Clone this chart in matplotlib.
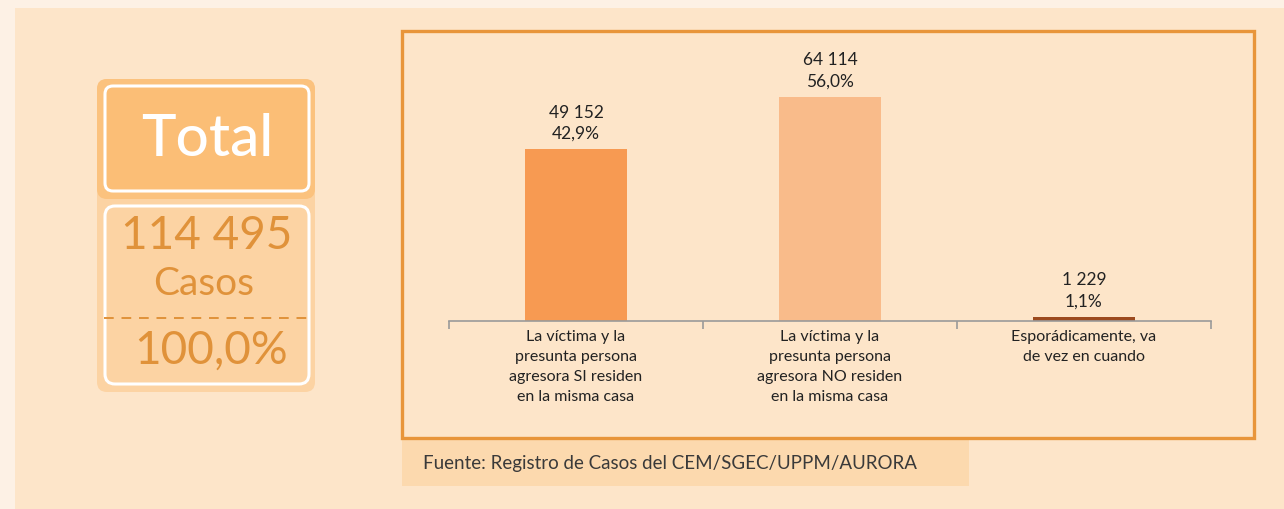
import matplotlib
matplotlib.use("Agg")
import matplotlib.pyplot as plt
from matplotlib.patches import Rectangle, FancyBboxPatch
from matplotlib.transforms import IdentityTransform
from matplotlib.lines import Line2D

categories = [
    "La víctima y la\npresunta persona\nagresora SI residen\nen la misma casa",
    "La víctima y la\npresunta persona\nagresora NO residen\nen la misma casa",
    "Esporádicamente, va\nde vez en cuando",
]
casos = [49152, 64114, 1229]
porcentajes = [42.9, 56.0, 1.1]
total_casos = 114495
total_pct = 100.0
fuente = "Fuente: Registro de Casos del CEM/SGEC/UPPM/AURORA"

bar_colors = ["#F79A52", "#F9BB8A", "#9C4A1E"]

W, H = 1284, 510
fig = plt.figure(figsize=(W / 100, H / 100), dpi=100)
fig.patch.set_facecolor("#FDF1E5")
T = IdentityTransform()

def r(x0, y0, x1, y1, **kw):
    # pixel coords from top-left
    return Rectangle((x0, H - y1), x1 - x0, y1 - y0, transform=T, **kw)

def rr(x0, y0, x1, y1, rad, **kw):
    return FancyBboxPatch((x0, H - y1), x1 - x0, y1 - y0,
                          boxstyle=f"round,pad=0,rounding_size={rad}",
                          transform=T, **kw)

def fx(x):
    return x / W

def fy(y):
    return (H - y) / H

# inner background
fig.patches.append(r(15, 9, W, H, facecolor="#FDE5C9", edgecolor="none", zorder=-3))
# source box
fig.patches.append(r(402, 441, 969, 487, facecolor="#FCD9AE", edgecolor="none", zorder=-2))
# frame
fig.patches.append(r(402, 32, 1254, 439, facecolor="none", edgecolor="#E8953A", linewidth=2.4, zorder=-1))

# left panel
fig.patches.append(rr(97, 80, 315, 393, 10, facecolor="#FCD3A3", edgecolor="none", zorder=-2))
fig.patches.append(rr(97, 80, 315, 200, 10, facecolor="#FBC27E", edgecolor="none", zorder=-2))
fig.patches.append(rr(105, 87, 309, 192, 8, facecolor="#FBBE76", edgecolor="white", linewidth=2.2, zorder=-1))
fig.patches.append(rr(105, 207, 309, 385, 10, facecolor="#FCD3A3", edgecolor="white", linewidth=2.2, zorder=-1))
fig.lines.append(Line2D([fx(104), fx(310)], [fy(319), fy(319)], transform=fig.transFigure,
                        color="#E0923A", linewidth=1.4, linestyle=(0, (5, 4))))

fam = ["Lato", "DejaVu Sans"]
fig.text(fx(207), fy(140), "Total", color="white", fontsize=42, ha="center", va="center",
         family=fam, fontweight="medium")
fig.text(fx(207), fy(236), f"{total_casos:,}".replace(",", " "), color="#E0923A", fontsize=33,
         ha="center", va="center", family=fam)
fig.text(fx(204), fy(284), "Casos", color="#E0923A", fontsize=28, ha="center", va="center", family=fam)
fig.text(fx(211), fy(351), f"{total_pct:.1f}%".replace(".", ","), color="#E0923A", fontsize=33,
         ha="center", va="center", family=fam)

fig.text(fx(423), fy(464), fuente, color="#3A3A3A", fontsize=13.5, ha="left", va="center", family=fam)

# chart axes
ax = fig.add_axes([fx(449), fy(322), fx(1211) - fx(449), (322 - 98) / H])
ax.set_facecolor("none")
x = list(range(len(categories)))
bars = ax.bar(x, casos, width=0.4, color=bar_colors, zorder=2)
ax.set_xlim(-0.5, 2.5)
ax.set_ylim(0, max(casos))
for s in ["top", "right", "left"]:
    ax.spines[s].set_visible(False)
ax.spines["bottom"].set_color("#9A9A9A")
ax.spines["bottom"].set_linewidth(1.2)
ax.set_yticks([])
ax.set_xticks(x)
ax.set_xticklabels(categories, family=fam, fontsize=11.5, color="#222222")
for t in ax.get_xticklabels():
    t.set_linespacing(1.55)
ax.tick_params(axis="x", which="major", length=0, pad=6)
ax.set_xticks([-0.5, 0.5, 1.5, 2.5], minor=True)
ax.tick_params(axis="x", which="minor", length=6, color="#9A9A9A", width=1.2)

for b, v, p in zip(bars, casos, porcentajes):
    lab = f"{v:,}".replace(",", " ") + "\n" + f"{p:.1f}%".replace(".", ",")
    ax.annotate(lab, (b.get_x() + b.get_width() / 2, b.get_height()), xytext=(0, 6),
                textcoords="offset points", ha="center", va="bottom", fontsize=12.5,
                family=fam, color="#222222", linespacing=1.4, annotation_clip=False)

fig.savefig("out.png", dpi=100, facecolor=fig.get_facecolor())
